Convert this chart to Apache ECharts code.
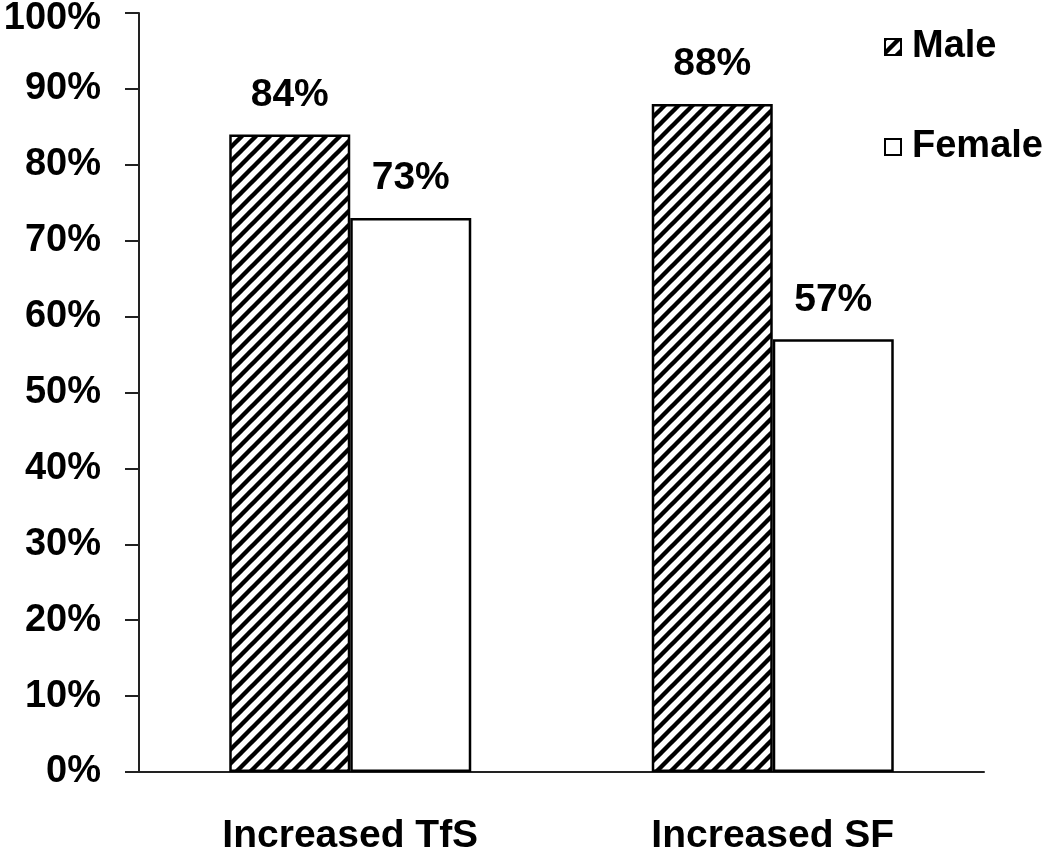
<!DOCTYPE html>
<html>
<head>
<meta charset="utf-8">
<script src="https://cdn.jsdelivr.net/npm/echarts@6/dist/echarts.min.js"></script>
<style>
html,body{margin:0;padding:0;background:#fff;}
#chart{width:1050px;height:848px;}
</style>
</head>
<body>
<div id="chart"></div>
<script>
const categories = ['Increased TfS', 'Increased SF'];
const maleValues = [84, 88];
const femaleValues = [73, 57];
const seriesNames = ['Male', 'Female'];

function hatchPattern() {
  const s = 14;
  const c = document.createElement('canvas');
  c.width = s; c.height = s;
  const ctx = c.getContext('2d');
  ctx.fillStyle = '#fff';
  ctx.fillRect(0, 0, s, s);
  ctx.strokeStyle = '#000';
  ctx.lineWidth = 4.4;
  ctx.lineCap = 'square';
  for (const k of [-s, 0, s]) {
    ctx.beginPath();
    ctx.moveTo(k, s);
    ctx.lineTo(k + s, 0);
    ctx.stroke();
  }
  return { image: c, repeat: 'repeat' };
}

const FONT = '"Liberation Sans", Arial, sans-serif';
const chart = echarts.init(document.getElementById('chart'), null, { renderer: 'canvas' });

const labelStyle = {
  show: true, position: 'top', distance: 20,
  formatter: '{c}%', color: '#000', fontFamily: FONT, fontWeight: 'bold', fontSize: 39
};

chart.setOption({
  animation: false,
  backgroundColor: '#fff',
  grid: { left: 139, right: 66, top: 13, bottom: 76, containLabel: false, outerBoundsMode: 'none' },
  legend: {
    orient: 'vertical',
    left: 884, top: 28, padding: 0,
    itemWidth: 16, itemHeight: 16, itemGap: 62,
    textStyle: { fontFamily: FONT, fontWeight: 'bold', fontSize: 38, color: '#000', lineHeight: 38, padding: [0, 0, 0, 6] },
    data: seriesNames.map(n => ({ name: n, icon: 'rect' }))
  },
  xAxis: {
    type: 'category',
    data: categories,
    axisLine: { lineStyle: { color: '#222', width: 2 } },
    axisTick: { show: false },
    axisLabel: { margin: 45, color: '#000', fontFamily: FONT, fontWeight: 'bold', fontSize: 39 }
  },
  yAxis: {
    type: 'value', min: 0, max: 100, interval: 10,
    splitLine: { show: false },
    axisLine: { show: true, lineStyle: { color: '#222', width: 2 } },
    axisTick: { show: true, length: 14, lineStyle: { color: '#222', width: 2 } },
    axisLabel: {
      margin: 38, color: '#000', fontFamily: FONT, fontWeight: 'bold', fontSize: 38,
      formatter: v => v === 100 ? '{t|' + v + '%}' : v + '%',
      rich: { t: { fontFamily: FONT, fontWeight: 'bold', fontSize: 38, color: '#000', lineHeight: 50, verticalAlign: 'bottom' } }
    }
  },
  series: [
    {
      name: seriesNames[0], type: 'bar', data: maleValues,
      barWidth: 121, barGap: '0%',
      itemStyle: { color: hatchPattern(), borderColor: '#000', borderWidth: 2.5 },
      label: labelStyle
    },
    {
      name: seriesNames[1], type: 'bar', data: femaleValues,
      barWidth: 121, barGap: '0%',
      itemStyle: { color: '#fff', borderColor: '#000', borderWidth: 2.5 },
      label: labelStyle
    }
  ]
});
</script>
</body>
</html>
